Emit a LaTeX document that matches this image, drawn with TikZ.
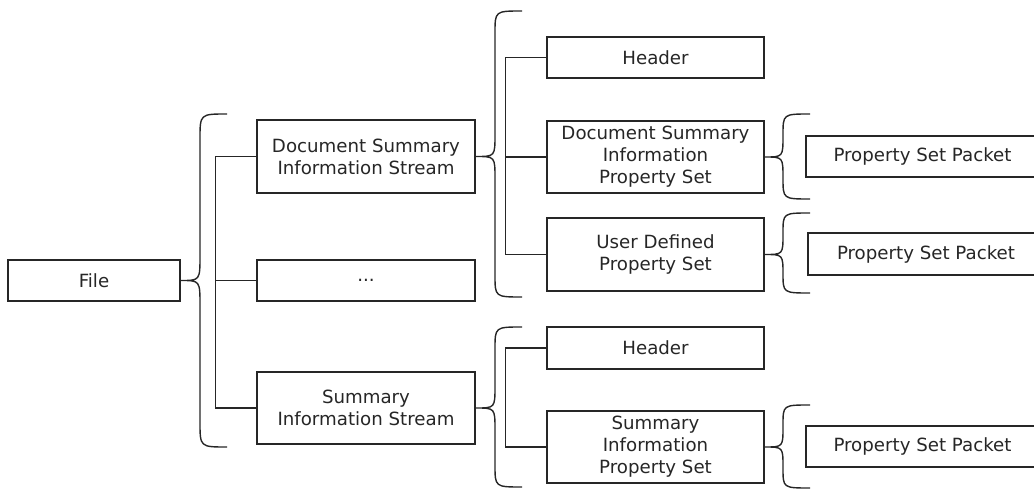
\documentclass[tikz,border=0pt]{standalone}
\usepackage{fontspec}
\setmainfont{DejaVu Sans}
\begin{document}
\begin{tikzpicture}[x=1pt,y=-1pt,
  box/.style={draw=black!85, line width=1.4pt, text=black!85, align=center, inner sep=0pt,
    font=\fontsize{18.2}{22}\selectfont},
  conn/.style={draw=black!85, line width=1.4pt}]
\useasboundingbox (0,0) rectangle (1034,489);
\newcommand\brc[7]{%
  \draw[conn] (#6,#4) .. controls (#3,#4) .. (#3,#4+#7) -- (#3,#2-#7)
    .. controls (#3,#2) .. (#1.east) .. controls (#3,#2) .. (#3,#2+#7)
    -- (#3,#5-#7) .. controls (#3,#5) .. (#6,#5);}
% level 0
\node[box, minimum width=172, minimum height=41] (file) at (94,280.5) {File};
% level 1
\node[box, minimum width=218, minimum height=73] (dsis) at (366,156.5) {Document Summary\\Information Stream};
\node[box, minimum width=218, minimum height=41] (dots) at (366,280.5) {...};
\node[box, minimum width=218, minimum height=72] (sis) at (366,408) {Summary\\Information Stream};
% level 2
\node[box, minimum width=217, minimum height=41] (h1) at (655.5,57.5) {Header};
\node[box, minimum width=217, minimum height=72] (dsips) at (655.5,157) {Document Summary\\Information\\Property Set};
\node[box, minimum width=217, minimum height=73] (udps) at (655.5,254.5) {User Defined\\Property Set};
\node[box, minimum width=217, minimum height=42] (h2) at (655.5,348) {Header};
\node[box, minimum width=217, minimum height=72] (sips) at (655.5,447) {Summary\\Information\\Property Set};
% level 3
\node[box, minimum width=233, minimum height=41] (psp1) at (922.5,156.5) {Property Set Packet};
\node[box, minimum width=236, minimum height=42] (psp2) at (926,254) {Property Set Packet};
\node[box, minimum width=233, minimum height=41] (psp3) at (922.5,446.5) {Property Set Packet};
% braces
\brc{file}{280.5}{200}{114}{447}{227}{25}
\brc{dsis}{156.5}{495}{11}{297}{522}{22}
\brc{sis}{408}{495}{327}{487}{522}{22}
\brc{dsips}{157}{783}{114}{199}{810}{21}
\brc{udps}{254.5}{783}{213}{293}{810}{20}
\brc{sips}{447}{783}{405}{488}{810}{20}
% trees
\draw[conn] (dsis.west) -- ++(-41,0) |- (sis.west);
\draw[conn] (dots.west) -- ++(-41,0);
\draw[conn] (h1.west) -- ++(-41,0) |- (udps.west);
\draw[conn] (dsips.west) -- ++(-41,0);
\draw[conn] (h2.west) -- ++(-41,0) |- (sips.west);
\end{tikzpicture}
\end{document}
